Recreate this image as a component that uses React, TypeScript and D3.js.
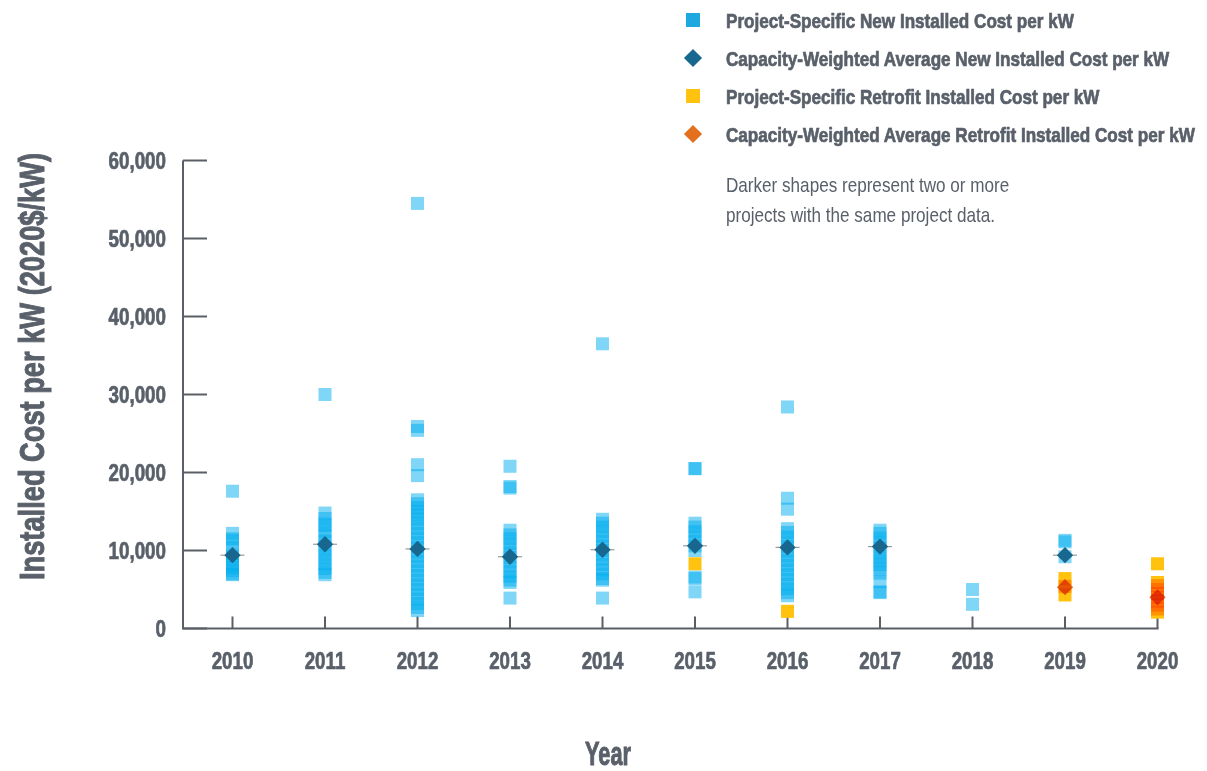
import React from "react";
import * as d3 from "d3";

// ---------- DATA ----------
const years = [2010, 2011, 2012, 2013, 2014, 2015, 2016, 2017, 2018, 2019, 2020];

// project-specific new installed cost per kW (2020$/kW)
const new2010 = [17600, 12200, 11500, 11300, 10400, 9600, 9200, 8800, 8200, 7800, 7400, 7000, 6900];
const new2011 = [30000, 14800, 14100, 13400, 13200, 12400, 11800, 11200, 10600, 10000, 9400, 8900, 8300, 7700, 7200, 6900];
const new2012 = [54500, 25900, 25400, 21000, 19600, 16500, 16000, 15500, 15000, 14500, 14000, 13400, 12800, 12200, 11600, 11000, 10400, 9800, 9200, 8600, 8000, 7400, 6800, 6200, 5600, 5000, 4400, 3800, 3200, 2700, 2300];
const new2013 = [20800, 18200, 18000, 12600, 12000, 11500, 10900, 10300, 9700, 9100, 8500, 7900, 7300, 6700, 6200, 5900, 3900];
const new2014 = [36500, 14000, 13500, 13000, 12400, 11800, 11200, 10600, 10000, 9400, 8800, 8200, 7600, 7000, 6400, 6200, 3900];
const new2015 = [20500, 20500, 13500, 13000, 12400, 11800, 11200, 10600, 10000, 6600, 6400, 4700];
const new2016 = [28400, 16700, 15300, 12800, 12300, 11700, 11100, 10500, 9900, 9300, 8700, 8100, 7500, 6900, 6300, 5700, 5100, 4600, 4200];
const new2017 = [12600, 12200, 11600, 11000, 10400, 9800, 9200, 8700, 8200, 7600, 7100, 6000, 4700, 4600];
const new2018 = [5000, 3100];
const new2019 = [11300, 11100, 9200];
const new2020: number[] = [];
const newProjects = [new2010, new2011, new2012, new2013, new2014, new2015, new2016, new2017, new2018, new2019, new2020];

// capacity-weighted average new installed cost
const newAverage = [9400, 10800, 10200, 9200, 10100, 10600, 10400, 10500, null, 9400, null];

// project-specific retrofit installed cost per kW
const retroYears = [2015, 2016, 2019, 2020];
const retro2015 = [8300];
const retro2016 = [2200];
const retro2019 = [6400, 5400, 4300];
const retro2020 = [8300, 5900, 5500, 5000, 4500, 4000, 3500, 3000, 2500, 2100];
const retroProjects = [retro2015, retro2016, retro2019, retro2020];

// capacity-weighted average retrofit installed cost
const retroAvgYears = [2019, 2020];
const retroAverage = [5300, 4000];

const yTicks = [0, 10000, 20000, 30000, 40000, 50000, 60000];

const legendLabels = [
  "Project-Specific New Installed Cost per kW",
  "Capacity-Weighted Average New Installed Cost per kW",
  "Project-Specific Retrofit Installed Cost per kW",
  "Capacity-Weighted Average Retrofit Installed Cost per kW",
];
const noteLines = ["Darker shapes represent two or more", "projects with the same project data."];
const yTitle = "Installed Cost per kW (2020$/kW)";
const xTitle = "Year";

// ---------- STYLE ----------
const FONT = "'Liberation Sans', Arial, sans-serif";
const TEXT = "#59606a";
const AXIS = "#5a5f66";
const BLUE = "#00aeef";
const BLUE_LEGEND = "#1da8e0";
const NAVY = "#17678f";
const YELLOW = "#ffc20e";
const ORANGE = "#e3701f";

export default function App() {
  const W = 1207;
  const H = 771;
  const x = d3.scalePoint<number>().domain(years).range([232.5, 1157.5]);
  const y = d3.scaleLinear().domain([0, 60000]).range([628.5, 160.5]);
  const fmt = d3.format(",");
  const sq = 13;
  const diamond = d3.symbol().type(d3.symbolDiamond2).size(170)();
  const legendDiamond = d3.symbol().type(d3.symbolDiamond2).size(210)();

  const x0 = 183;
  const xEnd = x(2020) as number;
  const bold = { fontWeight: 700, fill: TEXT, stroke: TEXT, strokeWidth: 0.7 } as const;

  return (
    <svg
      width={W}
      height={H}
      viewBox={`0 0 ${W} ${H}`}
      style={{ position: "absolute", left: 0, top: 0, background: "#fff" }}
      fontFamily={FONT}
    >
      <rect width={W} height={H} fill="#fff" />

      {/* axes */}
      <line x1={x0} x2={x0} y1={y(60000)} y2={y(0)} stroke={AXIS} strokeWidth={2} />
      <line x1={x0 - 1} x2={xEnd + 1} y1={y(0)} y2={y(0)} stroke={AXIS} strokeWidth={2} />
      {yTicks.map((t) => (
        <g key={t}>
          <line x1={x0} x2={x0 + 24} y1={y(t)} y2={y(t)} stroke={AXIS} strokeWidth={2} />
          <text
            transform={`translate(166,${y(t) + 8.5}) scale(0.8,1)`}
            textAnchor="end"
            fontSize={23.5}
            {...bold}
          >
            {fmt(t)}
          </text>
        </g>
      ))}
      {years.map((yr) => (
        <g key={yr}>
          <line x1={x(yr)} x2={x(yr)} y1={y(0)} y2={y(0) - 12} stroke={AXIS} strokeWidth={2} />
          <text
            transform={`translate(${x(yr)},${669}) scale(0.78,1)`}
            textAnchor="middle"
            fontSize={24}
            {...bold}
          >
            {yr}
          </text>
        </g>
      ))}

      {/* axis titles */}
      <text
        transform={`translate(608,765) scale(0.64,1)`}
        textAnchor="middle"
        fontSize={34}
        {...bold}
        strokeWidth={1}
      >
        {xTitle}
      </text>
      <text
        transform={`translate(44,${366.5}) rotate(-90)`}
        textAnchor="middle"
        fontSize={35}
        {...bold}
        strokeWidth={1}
        textLength={427}
        lengthAdjust="spacingAndGlyphs"
      >
        {yTitle}
      </text>

      {/* new project squares */}
      <g>
        {newProjects.map((vals, i) =>
          vals.map((v, j) => (
            <rect
              key={`n${i}-${j}`}
              x={(x(years[i]) as number) - sq / 2}
              y={y(v) - sq / 2}
              width={sq}
              height={sq}
              fill={BLUE}
              fillOpacity={0.5}
            />
          ))
        )}
      </g>

      {/* new averages */}
      {newAverage.map((v, i) =>
        v == null ? null : (
          <g key={`na${i}`} transform={`translate(${x(years[i])},${y(v)})`}>
            <line x1={-12} x2={12} y1={0} y2={0} stroke="#4c5d69" strokeWidth={1.2} opacity={0.6} />
            <path d={diamond as string} fill={NAVY} />
          </g>
        )
      )}

      {/* retrofit squares and averages (multiplying among themselves) */}
      <g style={{ isolation: "isolate" }}>
        {retroProjects.map((vals, i) =>
          vals.map((v, j) => (
            <rect
              key={`r${i}-${j}`}
              x={(x(retroYears[i]) as number) - sq / 2}
              y={y(v) - sq / 2}
              width={sq}
              height={sq}
              fill={YELLOW}
              style={{ mixBlendMode: "multiply" }}
            />
          ))
        )}
        {retroAverage.map((v, i) => (
          <path
            key={`ra${i}`}
            d={diamond as string}
            transform={`translate(${x(retroAvgYears[i])},${y(v)})`}
            fill={ORANGE}
            style={{ mixBlendMode: "multiply" }}
          />
        ))}
      </g>

      {/* legend */}
      {legendLabels.map((lab, i) => {
        const cy = 20 + i * 38;
        return (
          <g key={lab}>
            {i % 2 === 0 ? (
              <rect x={686} y={cy - 7} width={14} height={14} fill={i === 0 ? BLUE_LEGEND : YELLOW} />
            ) : (
              <path d={legendDiamond as string} transform={`translate(693,${cy})`} fill={i === 1 ? NAVY : ORANGE} />
            )}
            <text transform={`translate(726,${cy + 7.5}) scale(0.815,1)`} fontSize={21} {...bold}>
              {lab}
            </text>
          </g>
        );
      })}
      {noteLines.map((t, i) => (
        <text key={t} transform={`translate(726,${192 + i * 30}) scale(0.815,1)`} fontSize={21} fill={TEXT}>
          {t}
        </text>
      ))}
    </svg>
  );
}
